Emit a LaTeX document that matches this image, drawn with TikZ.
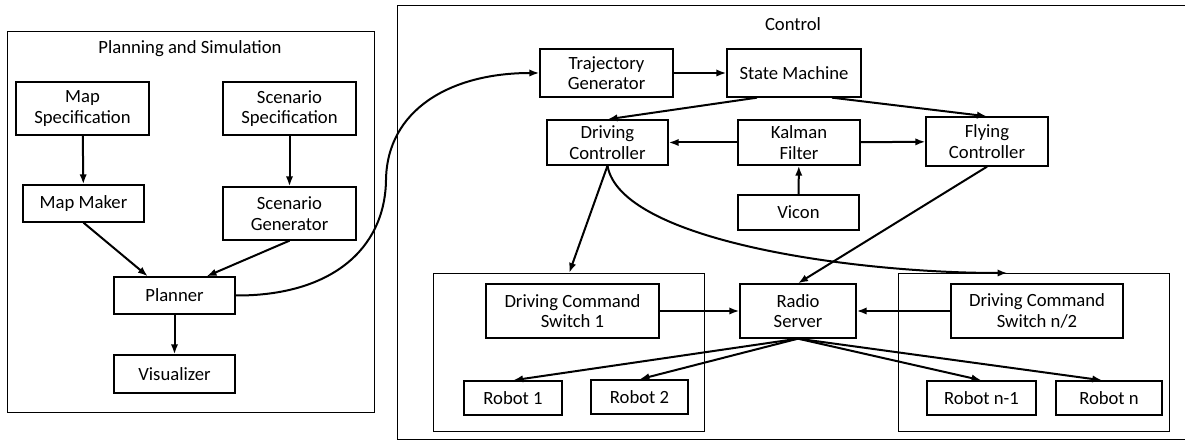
\documentclass[tikz,border=0pt]{standalone}
\usepackage{fontspec}
\setmainfont{Carlito}
\usetikzlibrary{arrows.meta}
\begin{document}
\begin{tikzpicture}[x=0.75pt,y=-0.75pt,
  box/.style={draw, line width=1pt, align=center, inner sep=0pt,
              font=\fontsize{14}{15.5}\selectfont},
  sz/.style 2 args={minimum width=#1*0.75pt, minimum height=#2*0.75pt},
  frame/.style={draw, line width=1pt, inner sep=0pt, anchor=north west},
  title/.style={inner sep=0pt, font=\fontsize{14}{15.5}\selectfont},
  link/.style={line width=1.5pt, -{Latex[length=7.5pt,width=5.5pt]}}
]
\useasboundingbox (0,0) rectangle (1185,441);

% group frames
\node[frame, sz={367}{381}] (plan) at (7,31) {};
\node[frame, sz={790}{434}] (ctrl) at (397,5) {};
\node[frame, sz={271}{158}] (grpA) at (433,273) {};
\node[frame, sz={271}{158}] (grpB) at (898,273) {};
\node[title] (plantitle) at (190,49) {Planning and Simulation};
\node[title] (ctrltitle) at (793,24) {Control};

% planning and simulation
\node[box, sz={133}{53}] (mapspec)  at (82.5,108.5) {Map\\Specification};
\node[box, sz={133}{53}] (scenspec) at (289.5,108.5) {Scenario\\Specification};
\node[box, sz={121}{37}] (mapmaker) at (83.5,203.5) {Map Maker};
\node[box, sz={133}{53}] (scengen)  at (289.5,213.5) {Scenario\\Generator};
\node[box, sz={121}{37}] (planner)  at (174.5,295.5) {Planner};
\node[box, sz={121}{38}] (visual)   at (174.5,374) {Visualizer};

% control
\node[box, sz={133}{48}] (traj)     at (606.5,73) {Trajectory\\Generator};
\node[box, sz={134}{48}] (state)    at (794,73) {State Machine};
\node[box, sz={121}{45}] (drivectl) at (607.5,142.5) {Driving\\Controller};
\node[box, sz={122}{45}] (kalman)   at (799,142.5) {Kalman\\Filter};
\node[box, sz={121}{35}] (vicon)    at (798.5,212.5) {Vicon};
\node[box, sz={122}{49}] (flyctl)   at (987,141.5) {Flying\\Controller};
\node[box, sz={173}{54}] (dcsA)     at (572.5,311) {Driving Command\\Switch 1};
\node[box, sz={116}{54}] (radio)    at (798,311) {Radio\\Server};
\node[box, sz={172}{54}] (dcsB)     at (1037,311) {Driving Command\\Switch n/2};
\node[box, sz={98}{34}]  (robA)     at (513,398) {Robot 1};
\node[box, sz={97}{34}]  (robB)     at (639.5,397) {Robot 2};
\node[box, sz={109}{34}] (robC)     at (981.5,398) {Robot n-1};
\node[box, sz={106}{34}] (robD)     at (1109,398) {Robot n};

% connectors
\draw[link] (mapspec) -- (mapmaker);
\draw[link] (scenspec) -- (scengen);
\draw[link] (mapmaker.south) -- ([xshift=-20pt]planner.north);
\draw[link] (scengen.south) -- ([xshift=24pt]planner.north);
\draw[link] (planner) -- (visual);
\draw[link] (planner.east) .. controls (330,296) and (385,250) .. (386,180)
            .. controls (387,110) and (450,73) .. (traj.west);
\draw[link] (traj) -- (state);
\draw[link] ([xshift=-27.75pt]state.south) -- (drivectl.north);
\draw[link] ([xshift=28.5pt]state.south) -- (flyctl.north);
\draw[link] (kalman) -- (drivectl);
\draw[link] (kalman) -- (flyctl);
\draw[link] (vicon) -- (kalman);
\draw[link] (drivectl.south) -- (grpA.north);
\draw[link] (drivectl.south) .. controls (620,240) and (850,273) .. ([xshift=-20pt]grpB.north);
\draw[link] (flyctl.south) -- (radio.north);
\draw[link] (dcsA) -- (radio);
\draw[link] (dcsB) -- (radio);
\draw[link] (radio.south) -- (robA.north);
\draw[link] (radio.south) -- (robB.north);
\draw[link] (radio.south) -- (robC.north);
\draw[link] (radio.south) -- ([xshift=-5pt]robD.north);
\end{tikzpicture}
\end{document}
